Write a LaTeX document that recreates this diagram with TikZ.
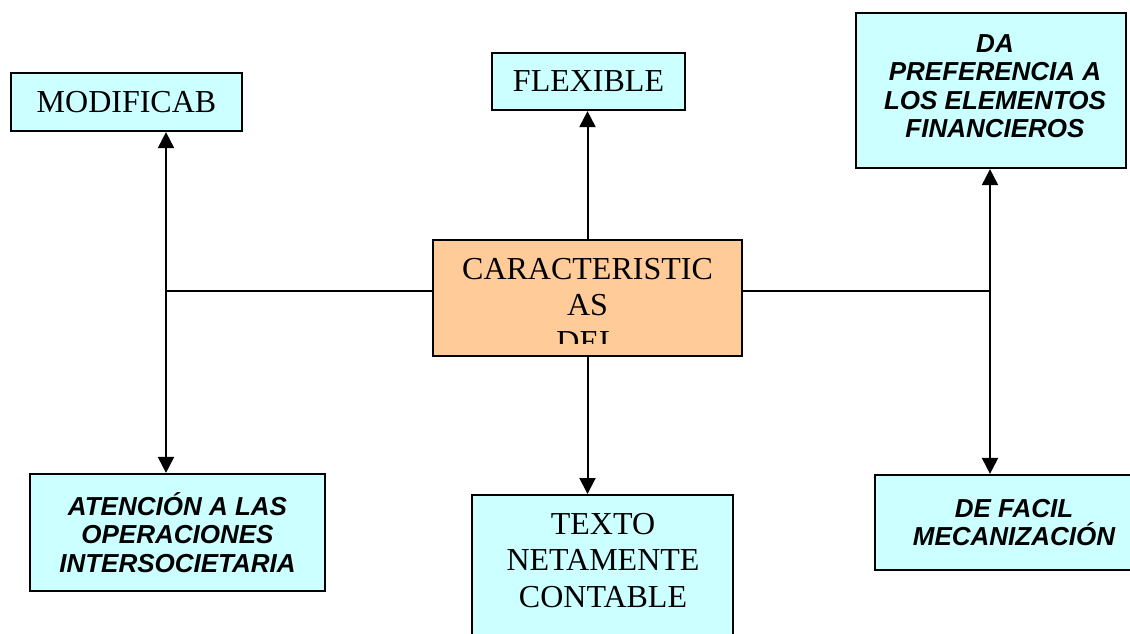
\documentclass[tikz,border=0pt]{standalone}
\usepackage{fontspec}
\setmainfont{Liberation Serif}
\setsansfont{Liberation Sans}
\usetikzlibrary{arrows.meta}
\definecolor{cajacyan}{HTML}{CCFFFF}
\definecolor{cajanaranja}{HTML}{FFCC99}

\begin{document}
\begin{tikzpicture}[x=1pt, y=-1pt,
  caja/.style={draw, line width=2.2pt, fill=cajacyan, inner sep=0pt},
  serif/.style={font=\fontsize{32}{36.5}\selectfont\rmfamily, align=center},
  negrita/.style={font=\fontsize{26}{28.5}\selectfont\sffamily\bfseries\itshape, align=center},
  flecha/.style={-{Triangle[width=16pt,length=16pt]}, line width=2pt}]
\useasboundingbox (0,0) rectangle (1130,633);

% cajas de arriba
\node[caja, serif, minimum width=231pt, minimum height=58pt] (mod) at (126.5,102) {MODIFICAB};
\node[caja, serif, minimum width=193pt, minimum height=57pt] (flex) at (588.5,81.5) {FLEXIBLE};
\node[caja, minimum width=270pt, minimum height=155pt] (da) at (991,90.5) {};
\node[negrita] (da-t) at (995,86) {DA\\PREFERENCIA A\\LOS ELEMENTOS\\FINANCIEROS};

% caja central
\node[caja, fill=cajanaranja, minimum width=309pt, minimum height=116pt] (car) at (587.5,298) {};
\begin{scope}
  \clip (433,240) rectangle (742,343);
  \node[serif] (car-t) at (587.5,305) {CARACTERISTIC\\AS\\DEL};
\end{scope}

% cajas de abajo
\node[caja, negrita, minimum width=295pt, minimum height=117pt] (aten) at (177.5,532.5) {ATENCIÓN A LAS\\OPERACIONES\\INTERSOCIETARIA};
\node[caja, minimum width=261pt, minimum height=160pt, anchor=north] (texto) at (602.5,494) {};
\node[serif] (texto-t) at (603,560.5) {TEXTO\\NETAMENTE\\CONTABLE};
\node[caja, negrita, minimum width=278pt, minimum height=95pt] (fac) at (1014,522.5) {DE FACIL\\MECANIZACIÓN};

% conectores
\coordinate (izq) at (166,291);
\coordinate (der) at (990,291);
\draw[line width=2pt] (car.west |- izq) -- (izq);
\draw[line width=2pt] (car.east |- der) -- (der);
\draw[flecha] (izq) -- (izq |- mod.south);
\draw[flecha] (izq) -- (izq |- aten.north);
\draw[flecha] (der) -- (der |- da.south);
\draw[flecha] (der) -- (der |- fac.north);
\draw[flecha] (car.north) -- (car.north |- flex.south);
\draw[flecha] (car.south) -- (car.south |- texto.north);
\end{tikzpicture}
\end{document}
